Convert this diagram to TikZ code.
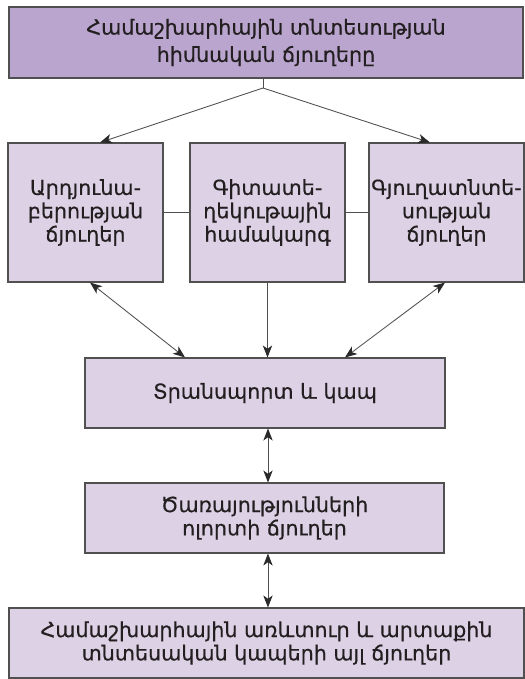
\documentclass[tikz,border=0pt]{standalone}
\usepackage{fontspec}
\setmainfont{DejaVu Sans}
\newfontfamily\armfont{DejaVu Sans}[FakeBold=0.5]
\usetikzlibrary{arrows.meta,calc}
\definecolor{topfill}{HTML}{BAA5CE}
\definecolor{boxfill}{HTML}{DCD1E5}
\definecolor{edge}{HTML}{505050}
\definecolor{tipc}{HTML}{2A2A2A}
\definecolor{txt}{HTML}{231F20}
\tikzset{
  box/.style={draw=edge, line width=0.8pt, fill=boxfill, align=center, text=txt,
    font=\armfont\fontsize{15.5}{17.5}\selectfont, inner sep=0pt},
  conn/.style={draw=edge, line width=0.65pt},
  tip/.style={-{Stealth[length=9pt,width=7pt,inset=2.5pt,color=tipc]}},
  dtip/.style={{Stealth[length=9pt,width=7pt,inset=2.5pt,color=tipc]}-{Stealth[length=9pt,width=7pt,inset=2.5pt,color=tipc]}}
}
\begin{document}
\begin{tikzpicture}[x=0.75pt,y=-0.75pt]
\useasboundingbox (0,0) rectangle (525,679);
\node[box, fill=topfill, minimum width=385.5pt, minimum height=53.25pt,
  font=\armfont\fontsize{15.5}{20.5}\selectfont] (top) at (266,42.5)
  {Համաշխարհային տնտեսության\\հիմնական ճյուղերը};
\node[box, minimum width=116.25pt, minimum height=104.25pt] (l) at (85.5,212.5)
  {Արդյունա-\\բերության\\ճյուղեր};
\node[box, minimum width=116.25pt, minimum height=104.25pt] (m) at (267.5,212.5)
  {Գիտատե-\\ղեկութային\\համակարգ};
\node[box, minimum width=116.25pt, minimum height=104.25pt] (r) at (446.5,212.5)
  {Գյուղատնտե-\\սության\\ճյուղեր};
\node[box, minimum width=270pt, minimum height=52.5pt] (t) at (265,393)
  {Տրանսպորտ և կապ};
\node[box, minimum width=269.25pt, minimum height=52.5pt] (s) at (264.5,518)
  {Ծառայությունների\\ոլորտի ճյուղեր};
\node[box, minimum width=386.25pt, minimum height=52.5pt] (b) at (266.5,643)
  {Համաշխարհային առևտուր և արտաքին\\տնտեսական կապերի այլ ճյուղեր};
\coordinate (split) at (263,88);
\draw[conn] (top.south -| split) -- (split);
\draw[conn,tip] (split) -- ([xshift=10.9pt]l.north);
\draw[conn,tip] (split) -- ([xshift=-12.4pt]r.north);
\draw[conn] (l.east) -- (m.west);
\draw[conn] (m.east) -- (r.west);
\draw[conn,dtip] ([xshift=3.4pt]l.south) -- ([xshift=-60pt]t.north);
\draw[conn,tip] (m.south) -- (m.south |- t.north);
\draw[conn,dtip] ([xshift=-1.1pt]r.south) -- ([xshift=60pt]t.north);
\draw[conn,dtip] ([xshift=2.25pt]t.south) -- ([xshift=2.25pt]t.south |- s.north);
\draw[conn,dtip] ([xshift=2.6pt]s.south) -- ([xshift=2.6pt]s.south |- b.north);
\end{tikzpicture}
\end{document}
